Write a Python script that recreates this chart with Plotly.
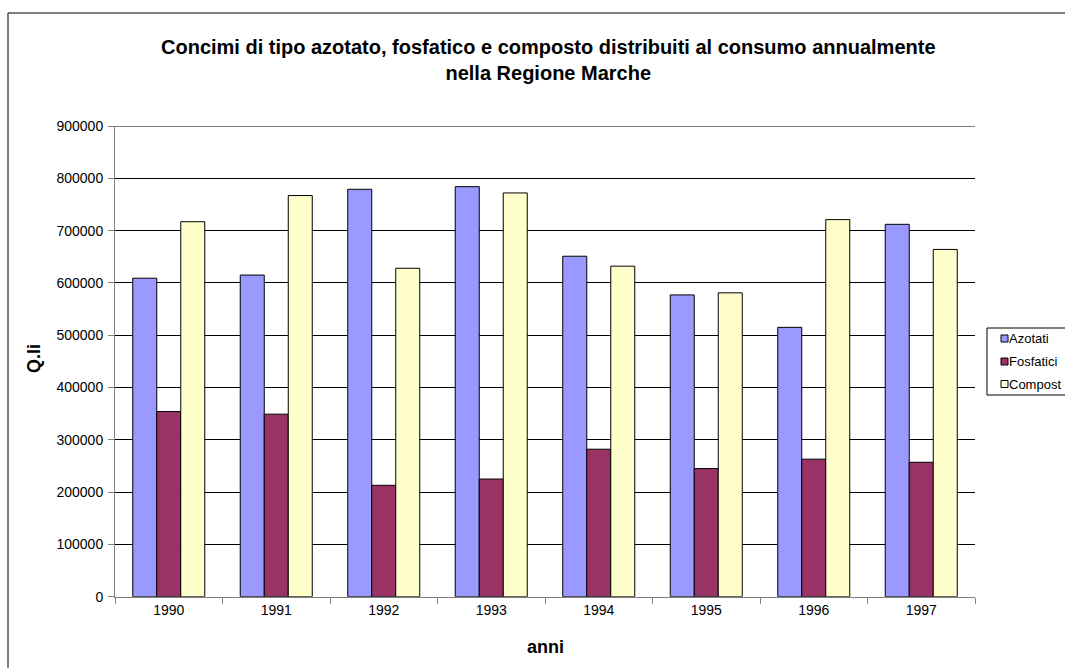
import plotly.graph_objects as go

W, H = 1065, 668

years = ["1990", "1991", "1992", "1993", "1994", "1995", "1996", "1997"]
azotati = [609000, 615000, 779000, 784000, 651000, 577000, 515000, 712000]
fosfatici = [354000, 349000, 213000, 225000, 282000, 245000, 263000, 257000]
composti = [717000, 767000, 628000, 772000, 632000, 581000, 721000, 664000]

series_names = ["Azotati", "Fosfatici", "Compost"]
series_values = [azotati, fosfatici, composti]
series_colors = ["#9999FF", "#993366", "#FFFFCC"]

y_max = 900000
y_ticks = list(range(0, y_max + 1, 100000))

FONT = "Liberation Sans, Arial, sans-serif"

def px(x):
    return x / W

def py(y):
    return 1 - y / H

fig = go.Figure()
for name, vals, col in zip(series_names, series_values, series_colors):
    fig.add_trace(go.Bar(
        x=years, y=vals, name=name,
        marker=dict(color=col, line=dict(color="#000000", width=1)),
    ))

plot_left, plot_right = 115, 975
plot_top, plot_bottom = 126, 596.7

fig.update_layout(
    width=W, height=H,
    margin=dict(l=0, r=0, t=0, b=0, autoexpand=False),
    paper_bgcolor="white", plot_bgcolor="white",
    barmode="group", bargap=0.33, bargroupgap=0,
    showlegend=False,
    font=dict(family=FONT, size=14, color="#000000"),
    xaxis=dict(
        domain=[px(plot_left), px(plot_right)],
        type="category",
        showline=True, linecolor="#808080", linewidth=1,
        ticks="outside", ticklen=6, tickcolor="#808080",
        tickson="boundaries",
        showgrid=False, zeroline=False,
        tickfont=dict(size=14, family=FONT),
    ),
    yaxis=dict(
        domain=[py(plot_bottom), py(plot_top)],
        range=[0, y_max],
        tickvals=y_ticks, ticktext=[str(v) for v in y_ticks],
        showline=True, linecolor="#808080", linewidth=1,
        ticks="outside", ticklen=6, tickcolor="#808080",
        showgrid=True, gridcolor="#000000", gridwidth=1,
        zeroline=False,
        tickfont=dict(size=14, family=FONT),
        ticklabelstandoff=2,
    ),
)

shapes = []
annotations = []

# top gridline (at the range edge plotly skips it)
shapes.append(dict(type="line", xref="x domain", yref="y", x0=0, x1=1,
                   y0=y_max, y1=y_max, line=dict(color="#000000", width=1)))

# outer chart border
shapes.append(dict(type="rect", xref="paper", yref="paper",
                   x0=px(8), x1=px(1075), y0=py(13), y1=py(690),
                   line=dict(color="#000000", width=1), fillcolor="rgba(0,0,0,0)"))

# title
annotations.append(dict(
    xref="paper", yref="paper", x=px(548), y=py(60), xanchor="center", yanchor="middle",
    text="<b>Concimi di tipo azotato, fosfatico e composto distribuiti al consumo annualmente<br>nella Regione Marche</b>",
    showarrow=False, font=dict(size=20, family=FONT, color="#000000"), align="center"))

# axis titles
annotations.append(dict(
    xref="paper", yref="paper", x=px(545), y=py(647), xanchor="center", yanchor="middle",
    text="<b>anni</b>", showarrow=False, font=dict(size=18, family=FONT)))
annotations.append(dict(
    xref="paper", yref="paper", x=px(34), y=py(359), xanchor="center", yanchor="middle",
    text="<b>Q.li</b>", textangle=-90, showarrow=False, font=dict(size=18, family=FONT)))

# legend
shapes.append(dict(type="rect", xref="paper", yref="paper",
                   x0=px(987), x1=px(1080), y0=py(328), y1=py(395),
                   line=dict(color="#000000", width=1), fillcolor="white"))
leg_y = [338.5, 361.5, 384]
for name, col, yy in zip(series_names, series_colors, leg_y):
    shapes.append(dict(type="rect", xref="paper", yref="paper",
                       x0=px(1001), x1=px(1008), y0=py(yy - 3.5), y1=py(yy + 3.5),
                       line=dict(color="#000000", width=1), fillcolor=col))
    annotations.append(dict(
        xref="paper", yref="paper", x=px(1007), y=py(yy), xanchor="left", yanchor="middle",
        text=name, showarrow=False, font=dict(size=13, family=FONT)))

fig.update_layout(shapes=shapes, annotations=annotations)

fig.write_html("out.html")
